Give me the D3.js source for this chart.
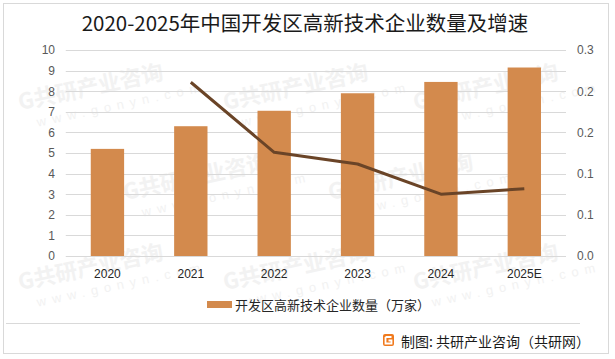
<!DOCTYPE html>
<html><head><meta charset="utf-8">
<script src="https://cdn.jsdelivr.net/npm/d3@7"></script>
<style>body{margin:0;background:#fff}svg{display:block}</style>
</head><body>
<svg id="c" width="615" height="359"></svg>
<script>
const categories = ["2020","2021","2022","2023","2024","2025E"];
const counts = [5.2, 6.3, 7.05, 7.9, 8.45, 9.15];
const growth = [null, 0.253, 0.151, 0.134, 0.09, 0.098];
const leftTicks = [0,1,2,3,4,5,6,7,8,9,10];
const rightTicks = [0,0.06,0.12,0.18,0.24,0.3];
const title = "2020-2025年中国开发区高新技术企业数量及增速";
const legendLabel = "开发区高新技术企业数量（万家）";
const footer = "制图: 共研产业咨询（共研网）";
const watermarkText = ["G共研产业咨询", "www.gonyn.com"];

const svg = d3.select("#c");
const cjk = "'Noto Sans CJK SC','Noto Sans',sans-serif";
const num = "'Liberation Sans','DejaVu Sans',sans-serif";

// faint watermarks, kept fully inside the canvas
const wmPos = [[20,110],[225,110],[415,110],[125,200],[330,200],[20,290],[225,290],[415,290]];
const wm = svg.append("g").attr("fill","#f2f2f2");
wmPos.forEach(([px,py])=>{
  const g = wm.append("g").attr("transform",`translate(${px},${py}) rotate(-12)`);
  g.append("text").attr("font-family",cjk).attr("font-size",22).attr("font-weight",700).text(watermarkText[0]);
  g.append("text").attr("y",20).attr("x",14).attr("font-family",num).attr("font-size",13).attr("letter-spacing",6).text(watermarkText[1]);
});

// borders
svg.append("rect").attr("x",3.5).attr("y",3.5).attr("width",605).attr("height",350).attr("fill","none").attr("stroke","#d9d9d9");
svg.append("line").attr("x1",6).attr("x2",580).attr("y1",323.5).attr("y2",323.5).attr("stroke","#d9d9d9");

const x = d3.scaleBand().domain(categories).range([65.75,566]).paddingInner(0.6).paddingOuter(0.3);
const y = d3.scaleLinear().domain([0,10]).range([256,50]);
const y2 = d3.scaleLinear().domain([0,0.3]).range([256,50]);

// grid
svg.append("g").selectAll("line").data(leftTicks).join("line")
  .attr("x1",65.75).attr("x2",566).attr("y1",d=>Math.round(y(d))+0.5).attr("y2",d=>Math.round(y(d))+0.5)
  .attr("stroke","#d9d9d9").attr("stroke-width",1);

// left axis
const la = svg.append("g").attr("transform","translate(60,0)")
  .call(d3.axisLeft(y).tickValues(leftTicks).tickSize(0).tickPadding(5));
la.select(".domain").remove();
la.selectAll("text").attr("font-family",num).attr("font-size",12).attr("fill","#595959");

// right axis
const ra = svg.append("g").attr("transform","translate(572,0)")
  .call(d3.axisRight(y2).tickValues(rightTicks).tickFormat(d3.format(".1f")).tickSize(0).tickPadding(5));
ra.select(".domain").remove();
ra.selectAll("text").attr("font-family",num).attr("font-size",12).attr("fill","#595959");

// bars
svg.append("g").selectAll("rect").data(categories).join("rect")
  .attr("x",d=>x(d)).attr("width",x.bandwidth())
  .attr("y",(d,i)=>y(counts[i])).attr("height",(d,i)=>y(0)-y(counts[i]))
  .attr("fill","#D38A4D");

// line
const pts = categories.map((c,i)=>({c,v:growth[i]})).filter(d=>d.v!=null);
svg.append("path").datum(pts)
  .attr("d",d3.line().x(d=>x(d.c)+x.bandwidth()/2).y(d=>y2(d.v)))
  .attr("fill","none").attr("stroke","#6A4427").attr("stroke-width",3).attr("stroke-linejoin","round");

// x axis
const xa = svg.append("g").attr("transform","translate(0,256)")
  .call(d3.axisBottom(x).tickSize(0).tickPadding(13));
xa.select(".domain").remove();
xa.selectAll("text").attr("font-family",num).attr("font-size",12).attr("fill","#262626");

// title
svg.append("text").attr("x",305).attr("y",31).attr("text-anchor","middle")
  .attr("font-family",cjk).attr("font-size",20.5).attr("fill","#1a1a1a").text(title);

// legend
svg.append("rect").attr("x",207).attr("y",301).attr("width",25).attr("height",7).attr("fill","#D38A4D");
svg.append("text").attr("x",235).attr("y",309.5).attr("font-family",cjk).attr("font-size",13).attr("fill","#262626").text(legendLabel);

// footer logo + text
const lg = svg.append("g").attr("transform","translate(383,334)");
lg.append("rect").attr("width",11).attr("height",12).attr("rx",2).attr("fill","#F07A1E");
lg.append("path").attr("d","M2.5,3 H8.5 M2.5,3 V9.5 H8.5 V6.5 H5.5").attr("stroke","#fff").attr("stroke-width",1.8).attr("fill","none");
svg.append("text").attr("x",401).attr("y",347).attr("font-family",cjk).attr("font-size",14).attr("fill","#1a1a1a").text(footer);
</script>
</body></html>
